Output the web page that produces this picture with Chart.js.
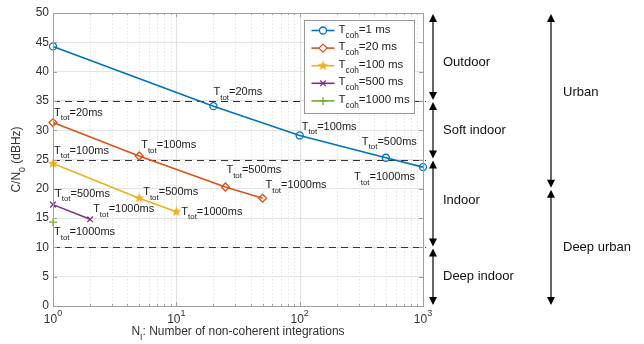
<!DOCTYPE html>
<html>
<head>
<meta charset="utf-8">
<script src="https://cdn.jsdelivr.net/npm/chart.js@4.4.0/dist/chart.umd.min.js"></script>
<style>
  html, body { margin: 0; padding: 0; background: #fff; }
  #wrap { width: 644px; height: 344px; }
</style>
</head>
<body>
<div id="wrap"><canvas id="chart" width="644" height="344"></canvas></div>
<script>
const FONT = "'Liberation Sans', Arial, Helvetica, sans-serif";

// coherent integration times (legend) and colours
const coherentTimes = ['1 ms', '20 ms', '100 ms', '500 ms', '1000 ms'];
const seriesColors = ['#0072bd', '#d95319', '#edb120', '#7e2f8e', '#77ac30'];

// N_I (non-coherent integrations) and C/N0 (dBHz) per series
const ni1 = [1, 20, 100, 500, 1000];
const cn1 = [44.3, 34.1, 29.1, 25.3, 23.7];
const ni20 = [1, 5, 25, 50];
const cn20 = [31.3, 25.6, 20.3, 18.4];
const ni100 = [1, 5, 10];
const cn100 = [24.3, 18.4, 16.1];
const ni500 = [1, 2];
const cn500 = [17.3, 14.8];
const ni1000 = [1];
const cn1000 = [14.3];

// total integration time labels next to the points
const ttot1 = ['', '20ms', '100ms', '500ms', '1000ms'];
const ttot20 = ['20ms', '100ms', '500ms', '1000ms'];
const ttot100 = ['100ms', '500ms', '1000ms'];
const ttot500 = ['500ms', '1000ms'];
const ttot1000 = ['1000ms'];

// tick labels
const xDecades = [1, 10, 100, 1000];
const xExponents = ['0', '1', '2', '3'];

// environment thresholds (dBHz) and zones
const envLevels = [35, 25, 10];
const indoorZones = ['Outdoor', 'Soft indoor', 'Indoor', 'Deep indoor'];
const indoorBounds = [50, 35, 25, 10, 0];
const indoorLabelAt = [41.5, 30, 18, 5];
const urbanZones = ['Urban', 'Deep urban'];
const urbanBounds = [50, 20, 0];
const urbanLabelAt = [36.5, 10];

// label offsets in px from the point (layout only)
const labelOffsets = [
  [null, [0, -14], [2, -9], [-24, -16], [-69, 10]],
  [[1, -10], [2, -11], [1, -17], [3, -13]],
  [[1, -13], [4, -6], [5, 0]],
  [[2, -11], [3, -10]],
  [[1, 10]]
];

function starCanvas(color, r) {
  const s = Math.ceil(r * 2 + 2);
  const c = document.createElement('canvas');
  c.width = c.height = s;
  const g = c.getContext('2d');
  g.fillStyle = color;
  g.beginPath();
  for (let i = 0; i < 10; i++) {
    const rad = i % 2 ? r * 0.42 : r;
    const ang = -Math.PI / 2 + i * Math.PI / 5;
    g.lineTo(s / 2 + rad * Math.cos(ang), s / 2 + rad * Math.sin(ang));
  }
  g.closePath();
  g.fill();
  return c;
}

const allN = [ni1, ni20, ni100, ni500, ni1000];
const allCN = [cn1, cn20, cn100, cn500, cn1000];
const allTtot = [ttot1, ttot20, ttot100, ttot500, ttot1000];
const pointStyles = ['circle', 'rectRot', starCanvas(seriesColors[2], 5.5), 'crossRot', 'cross'];
const pointRadii = [3.5, 4, 5, 4, 4];

const datasets = allN.map((ns, i) => ({
  label: 'Tcoh=' + coherentTimes[i],
  data: ns.map((n, j) => ({ x: n, y: allCN[i][j] })),
  borderColor: seriesColors[i],
  backgroundColor: i === 2 ? seriesColors[i] : 'rgba(255,255,255,0)',
  borderWidth: 1.6,
  pointStyle: pointStyles[i],
  pointRadius: pointRadii[i],
  pointBorderWidth: 1.3,
  pointHoverRadius: pointRadii[i],
  clip: false,
  tension: 0
}));

function subText(ctx, x, y, main, sub, rest, size, color) {
  ctx.fillStyle = color;
  ctx.textBaseline = 'middle';
  ctx.textAlign = 'left';
  ctx.font = size + 'px ' + FONT;
  ctx.fillText(main, x, y);
  let w = ctx.measureText(main).width;
  ctx.font = (size * 0.72) + 'px ' + FONT;
  ctx.fillText(sub, x + w, y + size * 0.5);
  w += ctx.measureText(sub).width;
  ctx.font = size + 'px ' + FONT;
  ctx.fillText(rest, x + w, y);
  return w + ctx.measureText(rest).width;
}

function measureSub(ctx, main, sub, rest, size) {
  ctx.font = size + 'px ' + FONT;
  let w = ctx.measureText(main).width + ctx.measureText(rest).width;
  ctx.font = (size * 0.72) + 'px ' + FONT;
  return w + ctx.measureText(sub).width;
}

function arrowHead(ctx, x, y, dir) {
  ctx.beginPath();
  ctx.moveTo(x, y);
  ctx.lineTo(x - 4, y - dir * 8);
  ctx.lineTo(x + 4, y - dir * 8);
  ctx.closePath();
  ctx.fill();
}

function zoneArrows(ctx, y, x, bounds, labels, labelAt, labelX) {
  ctx.strokeStyle = '#000';
  ctx.fillStyle = '#000';
  ctx.lineWidth = 1.2;
  for (let i = 0; i < labels.length; i++) {
    const y0 = y.getPixelForValue(bounds[i]) + 1;
    const y1 = y.getPixelForValue(bounds[i + 1]) - 1;
    ctx.beginPath();
    ctx.moveTo(x, y0 + 4);
    ctx.lineTo(x, y1 - 4);
    ctx.stroke();
    arrowHead(ctx, x, y0, -1);
    arrowHead(ctx, x, y1, 1);
    ctx.font = '13px ' + FONT;
    ctx.textAlign = 'left';
    ctx.textBaseline = 'middle';
    ctx.fillStyle = '#111';
    ctx.fillText(labels[i], labelX, y.getPixelForValue(labelAt[i]));
    ctx.fillStyle = '#000';
  }
}

const decorPlugin = {
  id: 'decor',
  beforeDatasetsDraw(chart) {
    const { ctx, chartArea: a, scales: { x, y } } = chart;
    ctx.save();
    // log grid: decades solid, in-between dotted
    for (let d = 1; d < 1000; d *= 10) {
      for (let m = 1; m <= 9; m++) {
        const px = Math.round(x.getPixelForValue(d * m)) + 0.5;
        ctx.strokeStyle = m === 1 ? '#e2e2e2' : '#e6e6e6';
        ctx.setLineDash(m === 1 ? [] : [1.5, 2]);
        ctx.lineWidth = 1;
        ctx.beginPath();
        ctx.moveTo(px, a.top);
        ctx.lineTo(px, a.bottom);
        ctx.stroke();
      }
    }
    // threshold dashed lines
    ctx.setLineDash([7, 5]);
    ctx.strokeStyle = '#333';
    ctx.lineWidth = 1.2;
    envLevels.forEach(v => {
      const py = Math.round(y.getPixelForValue(v)) + 0.5;
      ctx.beginPath();
      ctx.moveTo(a.left, py);
      ctx.lineTo(a.right + 3, py);
      ctx.stroke();
    });
    ctx.restore();
  },
  afterDraw(chart) {
    const { ctx, chartArea: a, scales: { x, y } } = chart;
    ctx.save();
    // axes box
    ctx.strokeStyle = '#a0a0a0';
    ctx.lineWidth = 1;
    ctx.strokeRect(a.left + 0.5, a.top + 0.5, a.right - a.left, a.bottom - a.top);
    // inward tick marks
    ctx.beginPath();
    for (let v = 0; v <= 50; v += 5) {
      const py = Math.round(y.getPixelForValue(v)) + 0.5;
      ctx.moveTo(a.left, py); ctx.lineTo(a.left + 4, py);
      ctx.moveTo(a.right, py); ctx.lineTo(a.right - 4, py);
    }
    for (let d = 1; d < 1000; d *= 10) {
      for (let m = 1; m <= 9; m++) {
        const px = Math.round(x.getPixelForValue(d * m)) + 0.5;
        const len = m === 1 ? 4 : 2;
        ctx.moveTo(px, a.bottom); ctx.lineTo(px, a.bottom - len);
        ctx.moveTo(px, a.top); ctx.lineTo(px, a.top + len);
      }
    }
    ctx.stroke();

    // x tick labels 10^n
    xDecades.forEach((v, i) => {
      const px = x.getPixelForValue(v);
      ctx.font = '12px ' + FONT;
      const w1 = ctx.measureText('10').width;
      ctx.font = '9px ' + FONT;
      const w2 = ctx.measureText(xExponents[i]).width;
      const x0 = px - (w1 + w2) / 2;
      ctx.fillStyle = '#333';
      ctx.textBaseline = 'middle';
      ctx.textAlign = 'left';
      ctx.font = '12px ' + FONT;
      ctx.fillText('10', x0, a.bottom + 14);
      ctx.font = '9px ' + FONT;
      ctx.fillText(xExponents[i], x0 + w1, a.bottom + 8);
    });

    // axis titles
    const xt = measureSub(ctx, 'N', 'I', ': Number of non-coherent integrations', 12);
    subText(ctx, (a.left + a.right) / 2 - xt / 2, a.bottom + 26, 'N', 'I', ': Number of non-coherent integrations', 12, '#333');
    ctx.save();
    ctx.translate(17, (a.top + a.bottom) / 2);
    ctx.rotate(-Math.PI / 2);
    const yt = measureSub(ctx, 'C/N', '0', ' (dBHz)', 12);
    subText(ctx, -yt / 2, 0, 'C/N', '0', ' (dBHz)', 12, '#333');
    ctx.restore();

    // T_tot annotations
    allN.forEach((ns, i) => {
      ns.forEach((n, j) => {
        const off = labelOffsets[i][j];
        if (!off || !allTtot[i][j]) return;
        const px = x.getPixelForValue(n) + off[0];
        const py = y.getPixelForValue(allCN[i][j]) + off[1];
        subText(ctx, px, py, 'T', 'tot', '=' + allTtot[i][j], 11, '#222');
      });
    });

    // legend
    const bx = a.right - 118.5, by = a.top + 7.5, bw = 110, bh = 93;
    ctx.fillStyle = '#fff';
    ctx.fillRect(bx, by, bw, bh);
    ctx.strokeStyle = '#999';
    ctx.lineWidth = 1;
    ctx.strokeRect(bx, by, bw, bh);
    datasets.forEach((ds, i) => {
      const ry = by + 10 + i * 17.6;
      ctx.strokeStyle = ds.borderColor;
      ctx.lineWidth = 1.6;
      ctx.beginPath();
      ctx.moveTo(bx + 7, ry);
      ctx.lineTo(bx + 30, ry);
      ctx.stroke();
      ctx.fillStyle = i === 2 ? ds.borderColor : '#fff';
      ctx.lineWidth = 1.3;
      Chart.helpers.drawPoint(ctx, { pointStyle: ds.pointStyle, radius: ds.pointRadius, rotation: 0, borderWidth: 1.3 }, bx + 18.5, ry);
      subText(ctx, bx + 34, ry - 1, 'T', 'coh', '=' + coherentTimes[i], 11.5, '#222');
    });

    // environment arrows
    zoneArrows(ctx, y, a.right + 10, indoorBounds, indoorZones, indoorLabelAt, a.right + 20);
    zoneArrows(ctx, y, a.right + 128, urbanBounds, urbanZones, urbanLabelAt, a.right + 140);
    ctx.restore();
  }
};

new Chart(document.getElementById('chart'), {
  type: 'line',
  data: { datasets: datasets },
  options: {
    responsive: false,
    animation: false,
    events: [],
    layout: { padding: { left: 0, right: 221, top: 13, bottom: 0 } },
    plugins: { legend: { display: false }, tooltip: { enabled: false } },
    scales: {
      x: {
        type: 'logarithmic',
        min: 1,
        max: 1000,
        ticks: { display: false },
        grid: { display: false },
        border: { display: false },
        afterFit: s => { s.height = 38; }
      },
      y: {
        min: 0,
        max: 50,
        ticks: { stepSize: 5, padding: 4, color: '#333', font: { size: 12, family: FONT } },
        grid: { color: '#e4e4e4', drawTicks: false },
        border: { display: false },
        afterFit: s => { s.width = 53; }
      }
    }
  },
  plugins: [decorPlugin]
});
</script>
</body>
</html>
